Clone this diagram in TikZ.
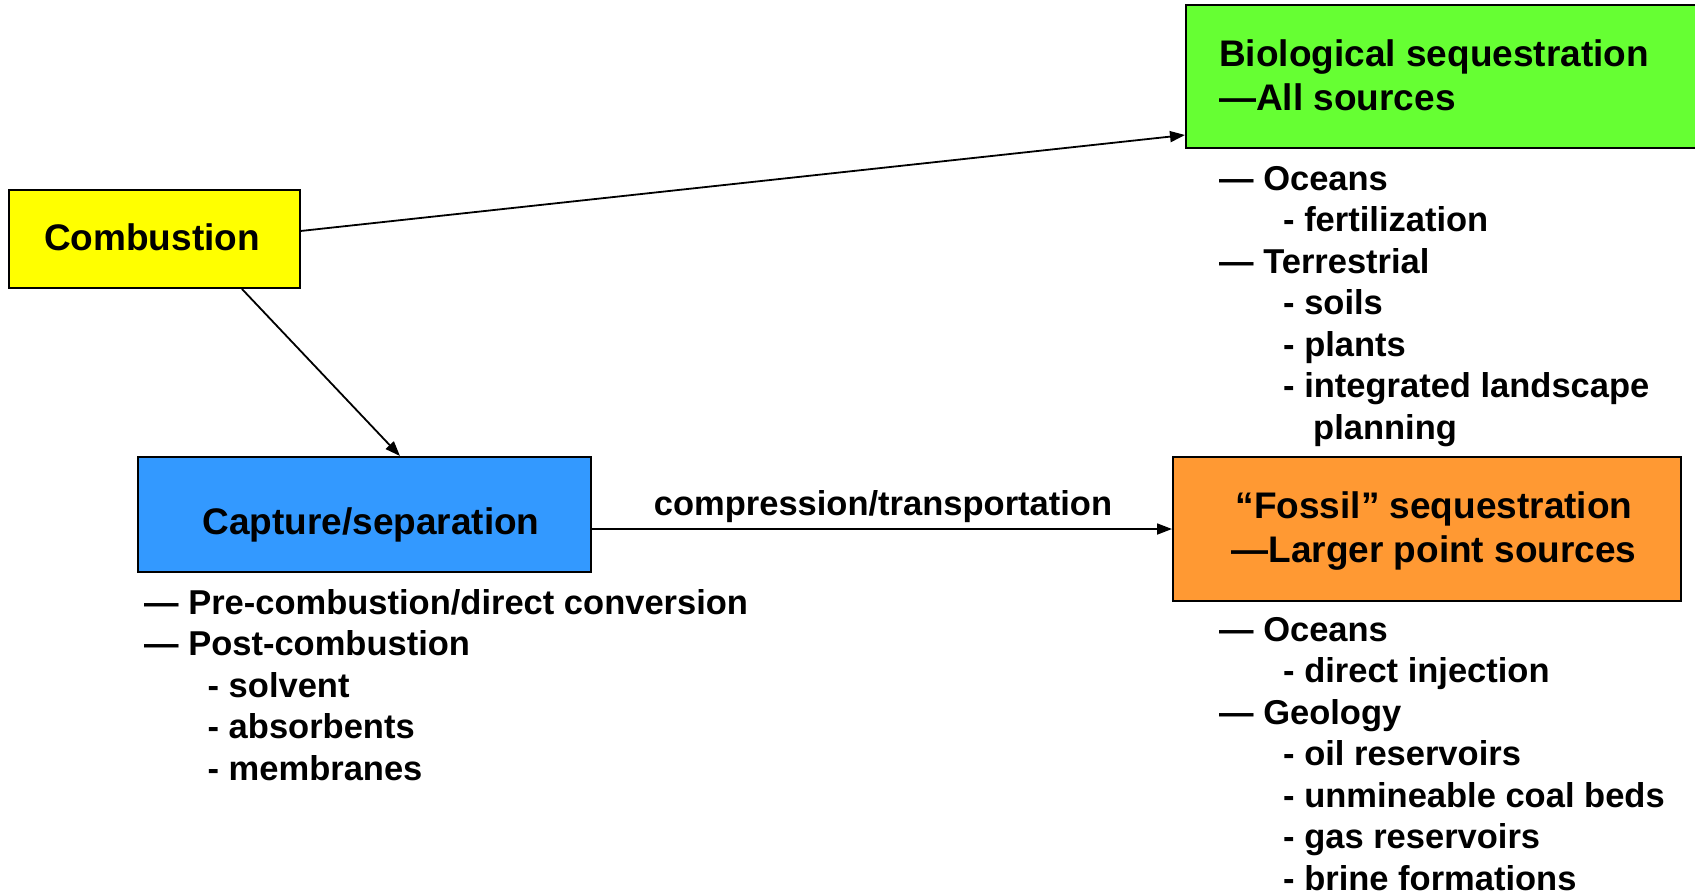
\documentclass[tikz,border=0pt]{standalone}
\usepackage{fontspec}
\setmainfont{Liberation Sans}
\usetikzlibrary{arrows.meta,calc}
\definecolor{cyel}{HTML}{FFFF00}
\definecolor{cgrn}{HTML}{66FF33}
\definecolor{cblu}{HTML}{3399FF}
\definecolor{corg}{HTML}{FF9933}
\tikzset{
  box/.style={draw=black, line width=2pt, inner sep=0pt, anchor=center},
  ttl/.style={inner sep=0pt, font=\bfseries\fontsize{37}{44}\selectfont},
  lst/.style={inner sep=0pt, anchor=base west, font=\bfseries\fontsize{34.5}{41.5}\selectfont},
  conn/.style={line width=1.8pt, -{Triangle[length=15pt,width=11pt]}}
}
\begin{document}
\begin{tikzpicture}[x=1pt,y=-1pt]
\useasboundingbox (0,0) rectangle (1695,895);
\clip (0,0) rectangle (1695,895);
% boxes
\node[box, fill=cyel, minimum width=291pt, minimum height=98pt] (comb) at (154,239) {};
\node[box, fill=cgrn, minimum width=514pt, minimum height=143pt] (bio) at (1443,76.5) {};
\node[box, fill=cblu, minimum width=453pt, minimum height=115pt] (cap) at (364.5,514.5) {};
\node[box, fill=corg, minimum width=508pt, minimum height=144pt] (fos) at (1427,529) {};
% titles
\node[ttl, anchor=base] (combt) at (152,250) {Combustion};
\node[ttl, anchor=base west] (biot) at (1219,66) {\vtop{\hbox{Biological sequestration}\hbox{—All sources}}};
\node[ttl, anchor=base] (capt) at (371,534) {Capture/separation};
\node[ttl, anchor=base] (fost1) at (1434,518) {“Fossil” sequestration};
\node[ttl, anchor=base] (fost2) at (1434,562) {—Larger point sources};
% lists
\node[lst] (biol) at (1219,190) {\vtop{%
  \hbox{— Oceans}
  \hbox{\kern64pt - fertilization}
  \hbox{— Terrestrial}
  \hbox{\kern64pt - soils}
  \hbox{\kern64pt - plants}
  \hbox{\kern64pt - integrated landscape}
  \hbox{\kern94pt planning}}};
\node[lst] (capl) at (144,614) {\vtop{%
  \hbox{— Pre-combustion/direct conversion}
  \hbox{— Post-combustion}
  \hbox{\kern63.5pt - solvent}
  \hbox{\kern63.5pt - absorbents}
  \hbox{\kern63.5pt - membranes}}};
\node[lst] (fosl) at (1219,641) {\vtop{%
  \hbox{— Oceans}
  \hbox{\kern64pt - direct injection}
  \hbox{— Geology}
  \hbox{\kern64pt - oil reservoirs}
  \hbox{\kern64pt - unmineable coal beds}
  \hbox{\kern64pt - gas reservoirs}
  \hbox{\kern64pt - brine formations}}};
% label
\node[lst, anchor=base] (lab) at (883,515) {compression/transportation};
% connectors
\draw[conn] ($(comb.east)+(0,-8)$) -- ($(bio.south west)+(0,-14)$);
\draw[conn] ($(comb.south)+(88,0)$) -- ($(cap.north)+(35.5,0)$);
\draw[conn] (cap.east |- fos.west) -- (fos.west);
\end{tikzpicture}
\end{document}
